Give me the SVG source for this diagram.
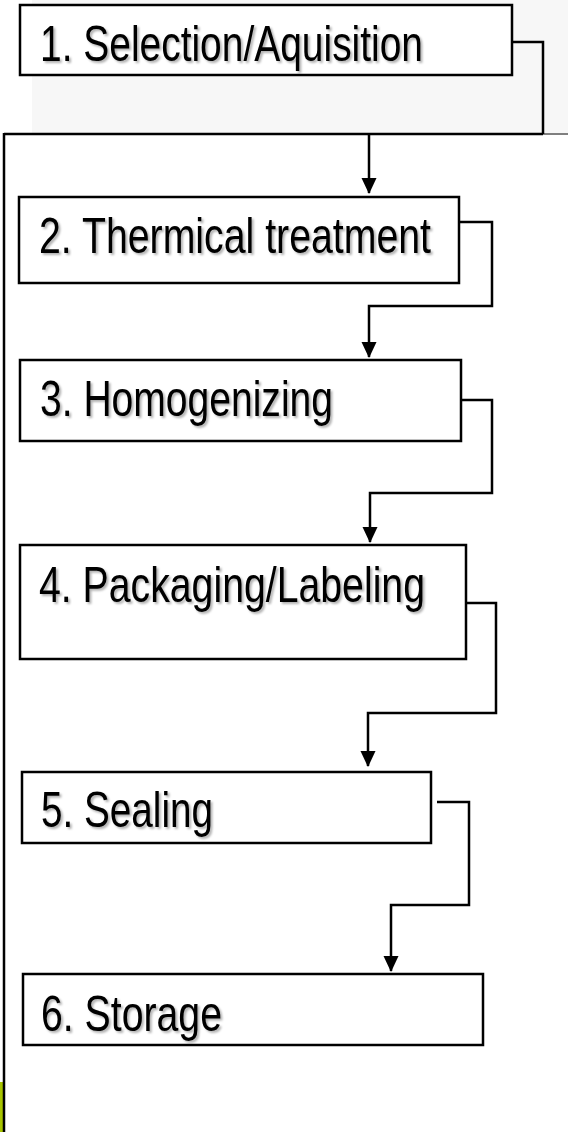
<svg xmlns="http://www.w3.org/2000/svg" width="568" height="1132" viewBox="0 0 568 1132">
  <style>
    .box { fill: #ffffff; stroke: #000000; stroke-width: 2.5; }
    .lbl { font-family: "Liberation Sans Narrow", "Liberation Sans", Arial, sans-serif; font-size: 50px; fill: #000000; filter: url(#shadow); }
    .wire { fill: none; stroke: #000000; stroke-width: 2.5; }
    .arrow { fill: none; stroke: #000000; stroke-width: 2.5; marker-end: url(#head); }
  </style>
  <defs>
    <marker id="head" markerUnits="userSpaceOnUse" markerWidth="16" markerHeight="16" refX="15" refY="7.5" orient="auto">
      <path d="M0,0 L16,7.5 L0,15 z" fill="#000000"/>
    </marker>
    <filter id="shadow" x="-5%" y="-20%" width="115%" height="150%">
      <feDropShadow dx="2" dy="2" stdDeviation="1.2" flood-color="#000000" flood-opacity="0.3"/>
    </filter>
  </defs>

  <rect x="0" y="0" width="568" height="1132" fill="#ffffff"/>
  <rect x="32" y="0" width="536" height="133" fill="#f7f7f7"/>
  <rect x="0" y="1082" width="3" height="50" fill="#a8c400"/>

  <g id="connectors">
    <polyline class="wire" points="512,42 543,42 543,134"/>
    <line class="wire" x1="4" y1="134" x2="543" y2="134"/>
    <line x1="543" y1="134" x2="568" y2="134" stroke="#000000" stroke-width="1"/>
    <line class="wire" x1="4" y1="133" x2="4" y2="1132"/>
    <line class="arrow" x1="369" y1="134" x2="369" y2="193"/>
    <polyline class="arrow" points="459,222 492,222 492,306 369,306 369,357"/>
    <polyline class="arrow" points="461,400 492,400 492,493 370,493 370,542"/>
    <polyline class="arrow" points="466,603 496,603 496,713 368,713 368,766"/>
    <polyline class="arrow" points="437,802 469,802 469,905 391,905 391,971"/>
  </g>

  <g id="node1">
    <rect class="box" x="20" y="5" width="492" height="70"/>
    <text class="lbl" x="40" y="61" textLength="383" lengthAdjust="spacingAndGlyphs">1. Selection/Aquisition</text>
  </g>
  <g id="node2">
    <rect class="box" x="19" y="197" width="440" height="86"/>
    <text class="lbl" x="39" y="253" textLength="392" lengthAdjust="spacingAndGlyphs">2. Thermical treatment</text>
  </g>
  <g id="node3">
    <rect class="box" x="20" y="360" width="441" height="81"/>
    <text class="lbl" x="40" y="416" textLength="293" lengthAdjust="spacingAndGlyphs">3. Homogenizing</text>
  </g>
  <g id="node4">
    <rect class="box" x="20" y="545" width="446" height="114"/>
    <text class="lbl" x="39" y="602" textLength="386" lengthAdjust="spacingAndGlyphs">4. Packaging/Labeling</text>
  </g>
  <g id="node5">
    <rect class="box" x="22" y="772" width="409" height="71"/>
    <text class="lbl" x="41" y="827" textLength="172" lengthAdjust="spacingAndGlyphs">5. Sealing</text>
  </g>
  <g id="node6">
    <rect class="box" x="23" y="974" width="460" height="71"/>
    <text class="lbl" x="41" y="1031" textLength="181" lengthAdjust="spacingAndGlyphs">6. Storage</text>
  </g>
</svg>
